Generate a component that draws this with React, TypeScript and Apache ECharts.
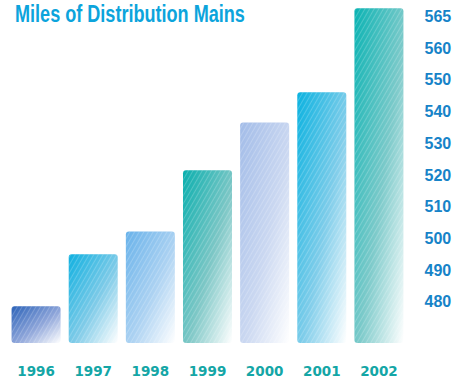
import React, { useEffect, useRef } from "react";
import * as echarts from "echarts";

const years = ["1996", "1997", "1998", "1999", "2000", "2001", "2002"];
const miles = [478.6, 495, 502.2, 521.5, 536.6, 546.1, 572.6];
const tickValues = [480, 490, 500, 510, 520, 530, 540, 550, 560, 570];
const tickLabels = ["480", "490", "500", "510", "520", "530", "540", "550", "560", "565"];
const barTopColors = ["#2a62b8", "#0eb0e0", "#68b2ea", "#0aafae", "#a2bce8", "#0ab2e0", "#0ab3b3"];
const barMidColors = ["#8fa6da", "#7fcbe8", "#acd2f2", "#7dc7c6", "#cbd8f1", "#7fcdea", "#7ccaca"];
const titleText = "Miles of Distribution Mains";

function grad(top: string, mid: string) {
  return new echarts.graphic.LinearGradient(0, 0, 1, 1, [
    { offset: 0, color: top },
    { offset: 0.55, color: mid },
    { offset: 1, color: "#ffffff" },
  ]);
}

export default function App() {
  const ref = useRef<HTMLDivElement>(null);
  useEffect(() => {
    if (!ref.current) return;
    const chart = echarts.init(ref.current, undefined, { renderer: "svg" });
    chart.setOption({
      animation: false,
      backgroundColor: "#ffffff",
      grid: { left: 7.5, right: 49.5, top: 7, bottom: 38, containLabel: false },
      graphic: [
        {
          type: "text",
          left: 15,
          top: 2,
          scaleX: 0.786,
          style: {
            text: titleText,
            fill: "#0ca4dc",
            font: "bold 23px 'Liberation Sans', Arial, sans-serif",
          },
        },
      ],
      xAxis: {
        type: "category",
        data: years,
        axisLine: { show: false },
        axisTick: { show: false },
        axisLabel: {
          margin: 21,
          color: "#14a6a6",
          fontFamily: "'DejaVu Sans', sans-serif",
          fontWeight: "bold",
          fontSize: 13.5,
        },
      },
      yAxis: {
        type: "value",
        position: "right",
        min: 467,
        max: 573,
        splitLine: { show: false },
        axisLine: { show: false },
        axisTick: { show: false },
        axisLabel: {
          customValues: tickValues,
          margin: 17,
          color: "#1683c8",
          fontFamily: "'Liberation Sans', Arial, sans-serif",
          fontWeight: "bold",
          fontSize: 16,
          formatter: (v: number) => {
            const i = tickValues.indexOf(v);
            return i >= 0 ? tickLabels[i] : "";
          },
        },
      },
      series: [
        {
          type: "bar",
          barWidth: 49,
          data: miles.map((v, i) => ({
            value: v,
            itemStyle: {
              color: grad(barTopColors[i], barMidColors[i]),
              borderRadius: 3,
              decal: {
                symbol: "rect",
                symbolSize: 1,
                color: "rgba(255,255,255,0.2)",
                dashArrayX: [1, 0],
                dashArrayY: [1, 3],
                rotation: -Math.PI / 3,
              },
            },
          })),
        },
      ],
    });
    return () => chart.dispose();
  }, []);
  return (
    <div
      ref={ref}
      style={{ position: "fixed", left: 0, top: 0, width: 457, height: 381 }}
    />
  );
}
